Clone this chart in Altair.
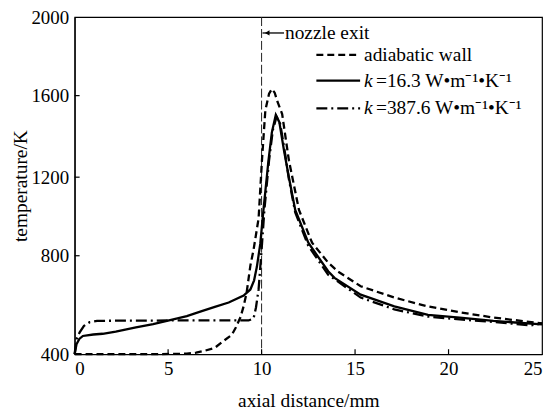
import altair as alt
import pandas as pd

# ---------------- data ----------------
x_ticks = [0, 5, 10, 15, 20, 25]
y_ticks = [400, 800, 1200, 1600, 2000]

adiabatic_x = [0, 2, 4, 6, 6.5, 7.0, 7.5, 7.9, 8.4, 8.6, 8.87, 9.04, 9.2, 9.4, 9.57,
               9.84, 10.02, 10.2, 10.4, 10.55, 10.7, 10.85, 11.1, 11.46, 12.0, 12.7,
               13.56, 14.1, 15.3, 17.1, 18.9, 20.6, 22.4, 25]
adiabatic_t = [400, 400, 400, 402, 406, 415, 426, 450, 478, 505, 550, 595, 650, 760, 830,
               990, 1283, 1527, 1610, 1634, 1615, 1570, 1510, 1283, 1033, 866,
               772, 735, 676, 630, 594, 570, 549, 525]

k16_x = [0, 0.1, 0.25, 0.44, 1.0, 1.5, 2.2, 3.28, 4.2, 5.05, 6.0, 6.8, 7.5, 8.24, 9.04,
         9.4, 9.6, 9.75, 9.93, 10.1, 10.37, 10.55, 10.76, 10.95, 11.2, 11.46, 11.8,
         12.5, 13.56, 13.9, 15.3, 17.1, 18.9, 20.6, 22.4, 25]
k16_t = [400, 440, 462, 474, 480, 483, 492, 509, 522, 537, 555, 575, 592, 610, 638,
         663, 700, 756, 860, 1033, 1283, 1420, 1505, 1470, 1330, 1200, 1033,
         866, 737, 710, 642, 594, 560, 549, 535, 521]

k387_x = [0, 0.1, 0.27, 0.5, 0.8, 1.2, 2, 5, 9.3, 9.57, 9.7, 9.84, 10.0, 10.15, 10.4,
          10.6, 10.8, 11.0, 11.25, 11.46, 11.8, 12.5, 13.56, 15.3, 17.1, 18.9, 20.6,
          22.4, 24.4, 25]
k387_t = [400, 461, 489, 515, 530, 535, 536, 537, 537, 545, 590, 663, 830, 1033, 1283,
          1430, 1497, 1460, 1320, 1190, 1020, 850, 723, 630, 582, 553, 541,
          531, 517, 525]

nozzle_x = 10
nozzle_label = "nozzle exit"
legend_labels = ["adiabatic wall", "=16.3 W\u2022m\u207b\u00b9\u2022K\u207b\u00b9",
                 "=387.6 W\u2022m\u207b\u00b9\u2022K\u207b\u00b9"]
legend_k = "k"
x_title = "axial distance/mm"
y_title = "temperature/K"

# ---------------- layout / style ----------------
FONT = "Liberation Serif"
W, H = 470, 339
FS = 19.5

xscale = alt.Scale(domain=[0, 25], nice=False, zero=False)
yscale = alt.Scale(domain=y_ticks, range=[339, 240, 161, 79, 0], nice=False, zero=False)

xaxis = alt.Axis(values=x_ticks, ticks=False, tickSize=0, labelPadding=5,
                 title=x_title, titlePadding=14, labelFontSize=19, titleFontSize=FS,
                 titleFontWeight="normal", labelFont=FONT, titleFont=FONT, format="d")
yaxis = alt.Axis(values=y_ticks, ticks=False, tickSize=0, labelPadding=6,
                 title=y_title, titlePadding=0, labelFontSize=19, titleFontSize=FS,
                 titleFontWeight="normal", labelFont=FONT, titleFont=FONT, format="d")

X = alt.X("x:Q", scale=xscale, axis=xaxis)
Y = alt.Y("y:Q", scale=yscale, axis=yaxis)


def frame(xs, ys):
    return pd.DataFrame({"x": xs, "y": ys})


LW = 2.3
adiabatic = alt.Chart(frame(adiabatic_x, adiabatic_t)).mark_line(
    color="black", strokeWidth=LW, strokeDash=[7, 4]).encode(x=X, y=Y)
k16 = alt.Chart(frame(k16_x, k16_t)).mark_line(
    color="black", strokeWidth=LW).encode(x=X, y=Y)
k387 = alt.Chart(frame(k387_x, k387_t)).mark_line(
    color="black", strokeWidth=LW, strokeDash=[11, 4, 2, 4]).encode(x=X, y=Y)

nozzle = alt.Chart(pd.DataFrame({"x": [nozzle_x]})).mark_rule(
    color="#222", strokeWidth=1, strokeDash=[9, 3]).encode(x=X)

# inward ticks
xt = alt.Chart(pd.DataFrame({"x": x_ticks[1:-1]})).mark_rule(
    color="black", strokeWidth=1.2).encode(x=X, y=alt.value(H), y2=alt.value(H - 5))
yt = alt.Chart(pd.DataFrame({"y": y_ticks[1:-1]})).mark_rule(
    color="black", strokeWidth=1.2).encode(y=Y, x=alt.value(0), x2=alt.value(5))

# nozzle exit annotation
arrow_df = pd.DataFrame({"x": [10.05], "x2": [11.2], "y": [1919]})
arrow_line = alt.Chart(arrow_df).mark_rule(color="black", strokeWidth=1.3).encode(
    x=X, x2="x2:Q", y=Y)
arrow_head = alt.Chart(pd.DataFrame({"x": [10.3], "y": [1919]})).mark_point(
    shape="triangle-left", filled=True, color="black", size=28, opacity=1).encode(x=X, y=Y)
nozzle_text = alt.Chart(pd.DataFrame({"x": [11.25], "y": [1919], "t": [nozzle_label]})).mark_text(
    align="left", baseline="middle", font=FONT, fontSize=FS, color="black").encode(
    x=X, y=Y, text="t:N")

# legend
leg_y = [1808, 1676, 1537]
leg_x0, leg_x1, leg_tx = 12.93, 15.27, 15.48
dashes = [[7, 4], None, [11, 4, 2, 4]]
legend_layers = []
for i, yy in enumerate(leg_y):
    kw = dict(color="black", strokeWidth=LW)
    if dashes[i]:
        kw["strokeDash"] = dashes[i]
    legend_layers.append(
        alt.Chart(pd.DataFrame({"x": [leg_x0], "x2": [leg_x1], "y": [yy]})).mark_rule(**kw)
        .encode(x=X, x2="x2:Q", y=Y))
legend_layers.append(
    alt.Chart(pd.DataFrame({"x": [leg_tx], "y": [leg_y[0]], "t": [legend_labels[0]]}))
    .mark_text(align="left", baseline="middle", font=FONT, fontSize=FS, color="black")
    .encode(x=X, y=Y, text="t:N"))
kdf = pd.DataFrame({"x": [leg_tx, leg_tx], "y": leg_y[1:], "t": [legend_k, legend_k]})
legend_layers.append(
    alt.Chart(kdf).mark_text(align="left", baseline="middle", font=FONT, fontSize=FS,
                             fontStyle="italic", color="black")
    .encode(x=X, y=Y, text="t:N"))
rdf = pd.DataFrame({"x": [leg_tx, leg_tx], "y": leg_y[1:], "t": legend_labels[1:]})
legend_layers.append(
    alt.Chart(rdf).mark_text(align="left", baseline="middle", font=FONT, fontSize=FS,
                             dx=12, color="black")
    .encode(x=X, y=Y, text="t:N"))

chart = alt.layer(
    nozzle, adiabatic, k16, k387, xt, yt, arrow_line, arrow_head, nozzle_text, *legend_layers
).properties(
    width=W, height=H,
    autosize=alt.AutoSizeParams(type="none"),
    padding={"left": 67, "top": 8, "right": 4, "bottom": 55},
).configure_view(
    stroke="black", strokeWidth=1.2
).configure_axis(
    domainColor="black", domainWidth=1.2, labelColor="black", titleColor="black", grid=False
)

chart.save("out.html", embed_options={"renderer": "svg", "actions": False})
